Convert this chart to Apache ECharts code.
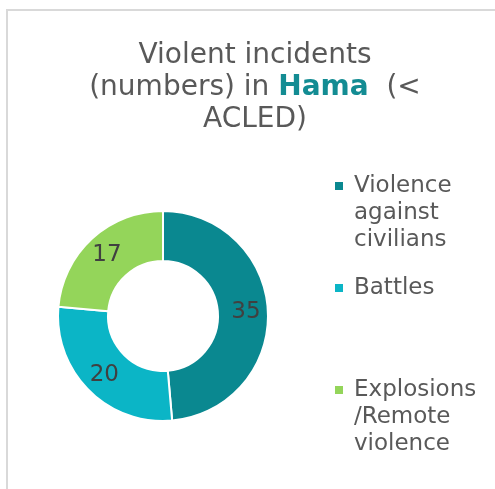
<!DOCTYPE html>
<html>
<head>
<meta charset="utf-8">
<script src="https://cdn.jsdelivr.net/npm/echarts@6/dist/echarts.min.js"></script>
<style>html,body{margin:0;padding:0;background:#fff}#c{width:495px;height:489px}</style>
</head>
<body>
<div id="c"></div>
<script>
const categories = ['Violence\nagainst\ncivilians', 'Battles', 'Explosions\n/Remote\nviolence'];
const values = [35, 20, 17];
const colors = ['#0A8890', '#0BB5C6', '#94D55A'];
const titleText = 'Violent incidents\n(numbers) in {b|Hama}  (<\nACLED)';

const font = 'DejaVu Sans';
const LH = 27;
const chart = echarts.init(document.getElementById('c'), null, {renderer: 'canvas'});
const markerCenters = [186, 288, 390];
const legends = categories.map((c, i) => {
  const lines = c.split('\n').length;
  // icon box: square at top-left, box tall enough so the square sits beside the first text line
  const h = (lines - 1) * LH + 10;
  const w = 15;
  const icon = 'path://M0,0h10v10h-10z M' + (w - 0.02) + ',' + (h - 0.02) + 'h0.02v0.02h-0.02z';
  const textTop = h / 2 - lines * LH / 2;
  const groupTop = Math.min(0, textTop);
  return {
    left: 333, top: markerCenters[i] - 5 + groupTop,
    data: [c], icon: icon, itemWidth: w, itemHeight: h, itemGap: 0,
    padding: 0, selectedMode: false,
    textStyle: {fontFamily: font, fontSize: 23, lineHeight: LH, color: '#595959'}
  };
});
chart.setOption({
  animation: false,
  backgroundColor: '#fff',
  title: {
    text: titleText, left: 255, textAlign: 'center', top: 40, padding: 0,
    textStyle: {fontFamily: font, fontSize: 28, lineHeight: 32, fontWeight: 'normal', color: '#595959',
      rich: {b: {fontFamily: font, fontSize: 28, lineHeight: 32, fontWeight: 'bold', color: '#138C93'}}}
  },
  legend: legends,
  graphic: [{type: 'polyline', shape: {points: [[7, 489], [7, 10], [495, 10]]}, style: {stroke: '#d9d9d9', lineWidth: 2, fill: null}, silent: true}],
  series: [{
    type: 'pie', center: [163, 316], radius: [55, 105], startAngle: 90, clockwise: true,
    label: {show: true, position: 'inside', fontFamily: font, fontSize: 23, color: '#404040', formatter: '{c}'},
    labelLine: {show: false},
    itemStyle: {borderColor: '#fff', borderWidth: 2},
    emphasis: {disabled: true},
    data: categories.map((c, i) => ({name: c, value: values[i], itemStyle: {color: colors[i]}}))
  }]
});
</script>
</body>
</html>
